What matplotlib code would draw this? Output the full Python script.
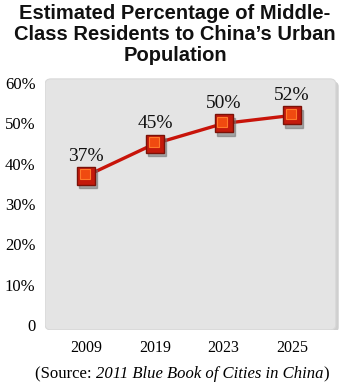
"""Middle-class share of China's urban population, line chart with rounded panel."""

import matplotlib

matplotlib.use("Agg")
import matplotlib.pyplot as plt
from matplotlib.patches import FancyBboxPatch

years = ["2009", "2019", "2023", "2025"]
share_pct = [37, 45, 50, 52]
value_labels = ["37%", "45%", "50%", "52%"]
y_ticks = [0, 10, 20, 30, 40, 50, 60]
y_tick_labels = ["0", "10%", "20%", "30%", "40%", "50%", "60%"]

SERIF = ["Liberation Serif", "DejaVu Serif"]
SANS = ["Liberation Sans", "DejaVu Sans"]

fig = plt.figure(figsize=(3.5, 3.89), dpi=100)
ax = fig.add_axes([0.129, 0.152, 0.843, 0.655])
ax.set_xlim(-0.6, 3.7)
ax.set_ylim(-1.2, 62)
ax.patch.set_visible(False)
for side in ax.spines.values():
    side.set_visible(False)

# rounded grey panel with a soft shadow
shadow = FancyBboxPatch(
    (0.01, -0.01), 0.985, 0.985,
    boxstyle="round,pad=0,rounding_size=0.02",
    transform=ax.transAxes, facecolor="#cfcfcf", edgecolor="none", zorder=0,
)
panel = FancyBboxPatch(
    (0.0, 0.0), 0.985, 0.985,
    boxstyle="round,pad=0,rounding_size=0.02",
    transform=ax.transAxes, facecolor="#e4e4e4", edgecolor="#d8d8d8",
    linewidth=0.8, zorder=0.5,
)
ax.add_patch(shadow)
ax.add_patch(panel)

x = list(range(len(years)))
ax.plot(x, share_pct, color="#c8140a", linewidth=2.4, zorder=2, solid_capstyle="round")
# marker shadow, body and highlight
ax.plot([v + 0.03 for v in x], [v - 0.8 for v in share_pct], linestyle="none",
        marker="s", markersize=13, color="#707070", alpha=0.55, zorder=3)
ax.plot(x, share_pct, linestyle="none", marker="s", markersize=13,
        markerfacecolor="#c41a0c", markeredgecolor="#7a1208", markeredgewidth=1.0, zorder=4)
ax.plot([v - 0.02 for v in x], [v + 0.4 for v in share_pct], linestyle="none", marker="s",
        markersize=7, markerfacecolor="#f04a10", markeredgecolor="#ff7a2a",
        markeredgewidth=0.8, zorder=5)

for xi, yi, lab in zip(x, share_pct, value_labels):
    ax.text(xi, yi + 2.8, lab, ha="center", va="bottom", fontsize=14,
            family=SERIF, color="#111111", zorder=6)

ax.set_yticks(y_ticks)
ax.set_yticklabels(y_tick_labels, family=SERIF, fontsize=12)
ax.set_xticks(x)
ax.set_xticklabels(years, family=SERIF, fontsize=11.5)
ax.tick_params(length=0, pad=7)
ax.tick_params(axis="x", pad=7)

fig.text(0.5, 0.99, "Estimated Percentage of Middle-\nClass Residents to China\u2019s Urban\nPopulation",
         ha="center", va="top", fontsize=14.5, fontweight="bold", family=SANS,
         linespacing=1.13, color="#111111")

# source line: plain prefix, italic title, closing bracket
y_src = 0.018
src = fig.text(0.1, y_src, "(Source: ", ha="left", va="bottom", fontsize=12, family=SERIF)
fig.canvas.draw()
bb = src.get_window_extent().transformed(fig.transFigure.inverted())
src2 = fig.text(bb.x1, y_src, "2011 Blue Book of Cities in China", ha="left", va="bottom",
                fontsize=12, family=SERIF, style="italic")
fig.canvas.draw()
bb2 = src2.get_window_extent().transformed(fig.transFigure.inverted())
fig.text(bb2.x1, y_src, ")", ha="left", va="bottom", fontsize=12, family=SERIF)

fig.savefig("out.png", dpi=100)
